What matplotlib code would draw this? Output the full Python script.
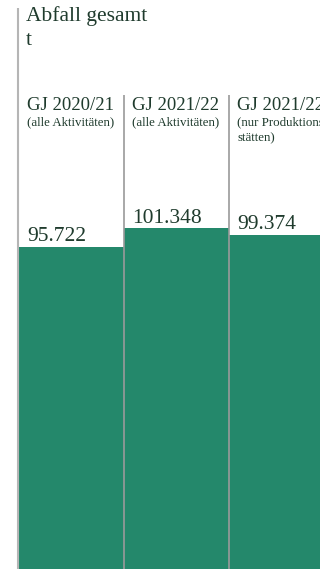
import matplotlib
matplotlib.use("Agg")
import matplotlib.pyplot as plt
import matplotlib.transforms as mtransforms

# data
categories = ["GJ 2020/21", "GJ 2021/22", "GJ 2021/22"]
notes = ["(alle Aktivitäten)", "(alle Aktivitäten)", "(nur Produktions-\nstätten)"]
waste_t = [95722, 101348, 99374]
value_labels = ["95.722", "101.348", "99.374"]
title = "Abfall gesamt\nt"

bar_color = "#24886b"
text_color = "#1f3b2d"
plt.rcParams["font.family"] = ["Liberation Serif", "DejaVu Serif"]

fig = plt.figure(figsize=(3.2, 5.69), dpi=100)
ax = fig.add_axes([0, 0, 1, 1])

x = list(range(len(waste_t)))
ax.bar(x, waste_t, width=1.0, align="edge", color=bar_color, linewidth=0)

# pixel scale: bar width ~105px, first bar starts at 19px
ax.set_xlim(-19 / 105, (320 - 19) / 105)
ax.set_ylim(0, 169150)
ax.axis("off")

# left axis line and separators
ax.plot([-1.5 / 105, -1.5 / 105], [0, 166800], color="#b5b5b5", lw=1.5,
        solid_capstyle="butt", clip_on=False)
for sx in [1, 2]:
    ax.plot([sx, sx], [0, 140900], color="#9a9a9a", lw=1.2,
            solid_capstyle="butt")

# the third column runs past the right edge, as in the original
trans = mtransforms.blended_transform_factory(ax.transData, ax.transAxes)
for i, (cat, note, v, lab) in enumerate(zip(categories, notes, waste_t, value_labels)):
    ax.text(i + 8 / 105, 1 - 110 / 569, cat, transform=trans, va="baseline",
            ha="left", fontsize=13.5, color=text_color)
    ax.text(i + 8 / 105, 1 - 116 / 569, note, transform=trans, va="top",
            ha="left", fontsize=9.3, color=text_color, linespacing=1.45)
    ax.annotate(lab, (i + 8 / 105, v), xytext=(0, 4), textcoords="offset points",
                va="baseline", ha="left", fontsize=15.5, color=text_color)

fig.text(26 / 320, 1 - 6 / 569, title, va="top", ha="left", fontsize=15.5,
         color=text_color, linespacing=1.35)

fig.savefig("out.png", dpi=100)
